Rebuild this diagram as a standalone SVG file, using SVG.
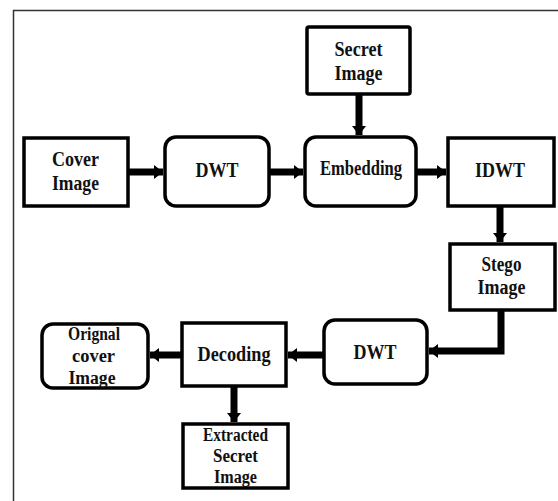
<svg xmlns="http://www.w3.org/2000/svg" width="558" height="501" viewBox="0 0 558 501">
<style>
.box{fill:#fff;stroke:#000;stroke-width:3.5}
.t{font-family:"Liberation Serif","Times New Roman",serif;font-weight:bold;font-size:20.5px;fill:#111;text-anchor:middle}
.s{font-size:18px}
.c{fill:none;stroke:#000;stroke-width:7;marker-end:url(#ah)}
</style>
<defs>
<marker id="ah" markerUnits="userSpaceOnUse" markerWidth="10" markerHeight="16" refX="9" refY="8" orient="auto">
<path d="M0,1 L9,8 L0,15 Z" fill="#000"/>
</marker>
</defs>
<rect x="13.5" y="10.5" width="560" height="500" fill="#fff" stroke="#333" stroke-width="1.5"/>
<g id="connectors">
<path class="c" d="M359,94 V135"/>
<path class="c" d="M128,172 H163"/>
<path class="c" d="M269,172 H303"/>
<path class="c" d="M416,172 H446"/>
<path class="c" d="M500,206 V242"/>
<path class="c" d="M501,310 V351 H429"/>
<path class="c" d="M324,355 H288"/>
<path class="c" d="M182,355 H150"/>
<path class="c" d="M234,386 V422"/>
</g>
<g id="secret"><rect class="box" x="307" y="27" width="103" height="67" rx="2"/>
<text class="t" x="358.5" y="56" textLength="48" lengthAdjust="spacingAndGlyphs">Secret</text>
<text class="t" x="358.5" y="80" textLength="48" lengthAdjust="spacingAndGlyphs">Image</text></g>
<g id="cover"><rect class="box" x="24" y="138" width="104" height="68"/>
<text class="t" x="75.5" y="166" textLength="47" lengthAdjust="spacingAndGlyphs">Cover</text>
<text class="t" x="75.5" y="190" textLength="47" lengthAdjust="spacingAndGlyphs">Image</text></g>
<g id="dwt1"><rect class="box" x="165" y="137" width="104" height="69" rx="11"/>
<text class="t" x="217" y="177" textLength="43" lengthAdjust="spacingAndGlyphs">DWT</text></g>
<g id="embedding"><rect class="box" x="305" y="137" width="111" height="69" rx="11"/>
<text class="t" x="361" y="175" textLength="82" lengthAdjust="spacingAndGlyphs">Embedding</text></g>
<g id="idwt"><rect class="box" x="448" y="138" width="106" height="68"/>
<text class="t" x="500" y="177" textLength="50" lengthAdjust="spacingAndGlyphs">IDWT</text></g>
<g id="stego"><rect class="box" x="450" y="244" width="105" height="66"/>
<text class="t" x="501.5" y="271" textLength="40" lengthAdjust="spacingAndGlyphs">Stego</text>
<text class="t" x="501.5" y="294" textLength="48" lengthAdjust="spacingAndGlyphs">Image</text></g>
<g id="dwt2"><rect class="box" x="324" y="320" width="103" height="64" rx="11"/>
<text class="t" x="375" y="359" textLength="43" lengthAdjust="spacingAndGlyphs">DWT</text></g>
<g id="decoding"><rect class="box" x="182" y="323" width="104" height="63"/>
<text class="t" x="234" y="361" textLength="73" lengthAdjust="spacingAndGlyphs">Decoding</text></g>
<g id="original"><rect class="box" x="42" y="324" width="106" height="64" rx="11"/>
<text class="t s" x="94" y="340" textLength="52" lengthAdjust="spacingAndGlyphs">Orignal</text>
<text class="t s" x="93.5" y="362" textLength="43" lengthAdjust="spacingAndGlyphs">cover</text>
<text class="t s" x="92" y="384" textLength="47" lengthAdjust="spacingAndGlyphs">Image</text></g>
<g id="extracted"><rect class="box" x="183" y="424" width="105" height="64"/>
<text class="t s" x="235.5" y="441" textLength="65" lengthAdjust="spacingAndGlyphs">Extracted</text>
<text class="t s" x="235.5" y="462" textLength="45" lengthAdjust="spacingAndGlyphs">Secret</text>
<text class="t s" x="235.5" y="483" textLength="43" lengthAdjust="spacingAndGlyphs">Image</text></g>
</svg>
